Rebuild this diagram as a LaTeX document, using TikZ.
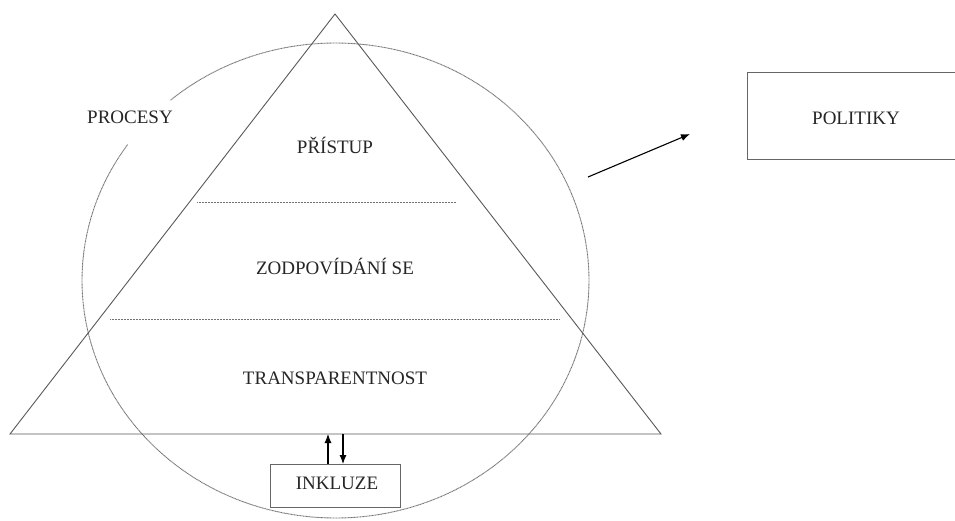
\documentclass[tikz,border=0pt]{standalone}
\usepackage{fontspec}
\setmainfont{Liberation Serif}
\usetikzlibrary{arrows.meta}
\begin{document}
\begin{tikzpicture}[x=1pt,y=-1pt,
  lbl/.style={font=\fontsize{19}{22}\selectfont, text=black!85, inner sep=0pt},
  tri/.style={draw=black!65, line width=0.9pt, line join=miter},
  dotline/.style={draw=black!55, line width=0.9pt, dash pattern=on 1pt off 0.5pt},
  boxstyle/.style={draw=black!60, line width=1pt, fill=white, inner sep=0pt},
  arr/.style={draw=black, line width=1.1pt, -{Latex[length=9pt,width=7pt]}}
]
\useasboundingbox (0,0) rectangle (955,520);
\clip (0,0) rectangle (955,520);
\fill[white] (0,0) rectangle (955,520);

% circle with gap near PROCESY
\coordinate (cc) at (335.5,280.5);
\draw[dotline] (cc) ++(229.4:253.5 and 237.5)
  arc[start angle=229.4, end angle=574.9, x radius=253.5, y radius=237.5];

% triangle
\coordinate (tl) at (10,434);
\coordinate (tt) at (335,14);
\coordinate (tr) at (661,434);
\draw[tri] (tl) -- (tt) -- (tr) -- cycle;

% dividing lines
\coordinate (d1a) at (197,202);
\coordinate (d1b) at (456,202);
\coordinate (d2a) at (110,319);
\coordinate (d2b) at (559,319);
\draw[dotline] (d1a) -- (d1b);
\draw[dotline] (d2a) -- (d2b);

% labels
\node[lbl] (procesy) at (130,117) {PROCESY};
\node[lbl] (pristup) at (335,145) {PŘÍSTUP};
\node[lbl] (zodp) at (335,266) {ZODPOVÍDÁNÍ SE};
\node[lbl] (transp) at (335,378) {TRANSPARENTNOST};

% INKLUZE box
\node[boxstyle, minimum width=130pt, minimum height=43pt] (inkluze) at (335,485.5) {};
\node[lbl] (inktext) at (337,483) {INKLUZE};
\coordinate (upbot) at (328,464);
\coordinate (uptop) at (328,434);
\coordinate (dntop) at (343,434);
\coordinate (dnbot) at (343,464);
\draw[arr] (upbot) -- (uptop);
\draw[arr] (dntop) -- (dnbot);

% POLITIKY box
\node[boxstyle, minimum width=219pt, minimum height=87pt] (politiky) at (856.5,115.5) {};
\node[lbl] (poltext) at (856,118) {POLITIKY};

% arrow towards POLITIKY
\coordinate (as) at (588,177);
\coordinate (ae) at (690,134);
\draw[arr] (as) -- (ae);
\end{tikzpicture}
\end{document}
